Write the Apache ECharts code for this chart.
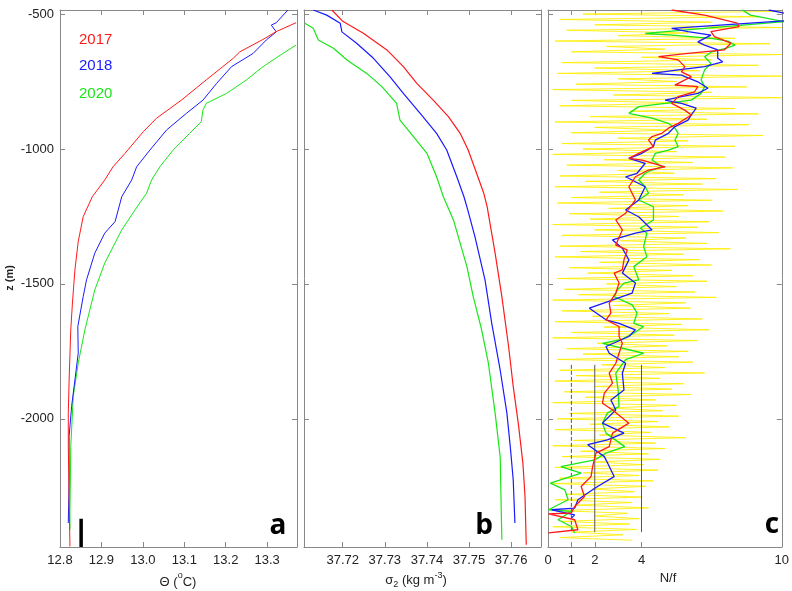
<!DOCTYPE html>
<html><head><meta charset="utf-8">
<script src="https://cdn.jsdelivr.net/npm/echarts@6/dist/echarts.min.js"></script>
<style>html,body{margin:0;padding:0;background:#fff}#c{width:792px;height:591px}</style>
</head><body><div id="c"></div>
<script>
// ---------- Panel a : potential temperature (°C) ----------
const thetaZ2017 = [-532,-565,-594,-640,-664,-744,-819,-886,-936,-1016,-1066,-1115,-1177,-1251,-1343,-1448,-1571,-1670,-1856,-1979,-2103,-2288,-2473];
const theta2017  = [13.370,13.322,13.290,13.234,13.218,13.153,13.093,13.033,13.001,12.957,12.928,12.908,12.878,12.856,12.844,12.836,12.830,12.826,12.822,12.820,12.820,12.822,12.824];
const thetaZ2018 = [-485,-532,-541,-566,-596,-646,-695,-757,-819,-868,-930,-1004,-1066,-1115,-1177,-1269,-1312,-1386,-1485,-1547,-1658,-1757,-1856,-1954,-2065,-2226,-2386];
const theta2018  = [13.350,13.322,13.310,13.322,13.298,13.266,13.214,13.178,13.145,13.105,13.057,13.017,12.985,12.973,12.949,12.933,12.908,12.884,12.864,12.856,12.843,12.844,12.836,12.828,12.822,12.822,12.820];
const thetaZ2020 = [-615,-646,-695,-744,-794,-831,-856,-899,-942,-1004,-1066,-1115,-1164,-1226,-1300,-1423,-1522,-1670,-1794,-1917,-2103,-2348,-2411];
const theta2020  = [13.370,13.338,13.290,13.250,13.202,13.153,13.145,13.141,13.113,13.073,13.041,13.021,13.009,12.981,12.949,12.908,12.884,12.860,12.844,12.832,12.826,12.824,12.824];
const thetaTicks = [12.8,12.9,13.0,13.1,13.2,13.3];
const scaleBarTheta = 12.851, scaleBarZ = [-2370,-2475];

// ---------- Panel b : sigma2 (kg m-3) ----------
const sigZ2017 = [-485,-528,-571,-633,-695,-757,-819,-880,-942,-1004,-1090,-1164,-1214,-1386,-1547,-1732,-1880,-2016,-2164,-2288,-2467];
const sig2017  = [37.7174,37.7201,37.7249,37.7305,37.7344,37.7376,37.7415,37.7451,37.7479,37.7498,37.7518,37.7535,37.7543,37.7562,37.7578,37.7594,37.7605,37.7617,37.7628,37.7633,37.7636];
const sigZ2018 = [-485,-504,-534,-566,-608,-664,-732,-794,-868,-942,-1004,-1103,-1177,-1226,-1325,-1485,-1646,-1819,-1979,-2103,-2226,-2386];
const sig2018  = [37.7130,37.7162,37.7194,37.7198,37.7233,37.7273,37.7312,37.7344,37.7384,37.7423,37.7447,37.7471,37.7488,37.7497,37.7514,37.7538,37.7554,37.7574,37.7590,37.7598,37.7605,37.7609];
const sigZ2020 = [-534,-553,-596,-627,-670,-720,-769,-831,-893,-954,-1016,-1103,-1177,-1263,-1436,-1547,-1670,-1794,-1979,-2140,-2448];
const sig2020  = [37.7110,37.7130,37.7142,37.7178,37.7210,37.7257,37.7293,37.7328,37.7336,37.7368,37.7400,37.7423,37.7439,37.7463,37.7495,37.7510,37.7530,37.7546,37.7562,37.7574,37.7578];
const sigmaTicks = [37.72,37.73,37.74,37.75,37.76];

// ---------- Panel c : N/f ----------
const nfZ2017 = [-485,-504,-534,-547,-565,-584,-608,-633,-646,-658,-670,-695,-714,-732,-757,-763,-769,-788,-806,-831,-856,-874,-905,-923,-942,-954,-967,-991,-1016,-1035,-1041,-1066,-1078,-1103,-1140,-1189,-1238,-1263,-1300,-1356,-1374,-1411,-1448,-1460,-1497,-1534,-1571,-1608,-1633,-1658,-1695,-1720,-1757,-1794,-1831,-1868,-1905,-1942,-1967,-2016,-2053,-2103,-2127,-2177,-2214,-2251,-2288,-2325,-2349,-2352,-2374,-2411,-2423];
const nf2017  = [5.29,6.70,8.10,8.17,6.97,7.12,7.82,7.54,5.99,4.73,5.57,5.85,5.71,6.13,5.57,5.43,6.41,6.27,5.57,5.29,5.85,6.13,5.57,5.15,4.87,4.45,4.30,4.51,3.88,3.46,4.02,5.01,4.30,3.74,3.46,3.74,3.32,2.90,3.18,2.90,3.39,3.25,3.18,2.83,3.04,2.90,2.62,2.69,2.48,3.04,3.04,3.18,3.04,2.90,2.62,2.76,2.41,2.33,2.76,3.46,2.76,2.62,2.05,1.91,1.84,1.42,1.56,1.14,1.00,0.02,1.14,1.28,0.02];
const nfZ2018 = [-485,-500,-525,-553,-565,-578,-603,-615,-633,-664,-677,-695,-707,-720,-726,-751,-775,-794,-806,-819,-831,-849,-874,-893,-917,-942,-967,-991,-1016,-1035,-1053,-1090,-1103,-1140,-1189,-1226,-1251,-1300,-1312,-1337,-1368,-1411,-1460,-1497,-1534,-1590,-1633,-1646,-1670,-1695,-1732,-1757,-1794,-1831,-1893,-1930,-1967,-2016,-2053,-2078,-2096,-2140,-2152,-2214,-2251,-2275,-2300,-2331,-2337,-2356,-2368];
const nf2018  = [9.44,10.3,10.2,5.29,5.99,6.97,6.41,6.70,7.26,7.26,7.47,6.70,5.57,4.45,5.71,6.41,6.84,6.41,5.71,5.01,5.71,6.34,6.13,5.99,5.43,5.15,4.59,4.51,4.02,3.46,4.16,3.81,3.32,4.16,3.88,3.32,3.88,4.45,3.74,2.76,3.18,3.46,3.18,3.74,3.60,1.77,2.48,3.04,3.74,3.46,2.48,2.62,3.32,3.18,3.25,2.69,2.90,2.33,3.25,2.54,1.70,2.41,2.48,2.83,2.12,1.70,1.28,1.14,0.16,1.14,1.00];
const nfZ2020 = [-485,-504,-528,-572,-578,-590,-600,-615,-627,-640,-658,-683,-707,-744,-769,-794,-819,-831,-843,-868,-886,-905,-923,-942,-967,-991,-1004,-1016,-1041,-1066,-1078,-1090,-1115,-1140,-1164,-1189,-1214,-1263,-1294,-1312,-1362,-1399,-1436,-1485,-1497,-1522,-1547,-1578,-1608,-1646,-1658,-1683,-1707,-1720,-1757,-1781,-1831,-1893,-1954,-1979,-2016,-2053,-2103,-2127,-2152,-2177,-2201,-2238,-2263,-2300,-2337,-2343,-2374,-2399,-2423];
const nf2020  = [8.31,8.66,10.1,4.16,5.30,7.00,7.70,8.00,7.60,7.00,6.70,6.97,6.70,6.55,6.70,6.55,6.13,5.01,3.88,3.46,4.45,5.15,5.43,5.57,5.43,5.57,5.15,4.59,4.45,4.87,4.45,4.16,3.88,4.16,4.30,3.88,4.51,4.51,3.95,4.23,4.09,4.23,3.67,3.88,3.25,2.97,2.83,3.60,3.81,3.67,4.09,3.67,3.11,2.33,4.09,3.32,2.90,3.00,3.04,2.54,2.33,2.48,3.28,2.48,2.00,0.55,1.42,0.10,0.72,0.86,0.02,1.00,0.43,1.00,1.14];
// high-resolution N/f profile (yellow), sampled every 10 m from -490 m
const rawTopZ = -490, rawStepZ = 10;
const nfRaw = [
 10,1.5,9,0.5,7,2,10,0.8,6,3,
 8,0.3,9.5,2.5,5,1,10,4,7,0.6,
 9,2,6.5,0.4,10,3,5.5,1.2,8.5,0.2,
 7,2.8,10,1,6,0.5,8,3.5,9,1.8,
 6.8,0.3,8.6,2,5.2,1,9.2,3,6,0.6,
 8,1.5,5.5,0.2,7.6,2.4,6.2,0.8,7.9,3,
 5.4,0.5,7.2,1.6,6.6,0.3,8.1,2.2,5.8,1,
 7,0.4,6,2.6,7.5,0.9,5.6,1.8,6.9,0.2,
 6.4,2,7.3,0.6,5.9,3.1,6.8,0.5,7.8,1.4,
 5.8,0.3,6.5,2.2,7,0.9,5.3,1.7,6.2,0.4,
 6.8,2.5,5.5,0.7,6.3,1.3,7.2,0.2,5.9,2.8,
 6.1,0.6,5.2,1.9,6.6,0.3,5.7,2.4,6.9,1,
 5.4,0.2,6.4,2.1,5.1,0.8,6,1.5,5.6,0.4,
 6.2,2.3,5,0.5,6.7,1.2,4.8,0.3,5.8,2,
 5.3,0.7,6.1,1.6,4.6,0.2,5.5,2.6,4.9,0.9,
 5.6,0.4,4.7,1.8,5.2,0.3,4.4,2.2,5.9,1.1,
 4.6,0.2,5,1.4,4.3,0.6,4.8,2,4.1,0.3,
 4.7,1.5,3.9,0.5,4.5,0.2,4.2,1.9,3.7,0.8,
 4,0.3,3.6,1.2,4.3,0.4,3.4,2,3.9,0.6,
 3.5,0.2,3.8,1,3.2,0.5,3.6
];
const nfTicks = [0,1,2,4,10];
const refLinesNf = [1,2,4], refLinesZ = [-1800,-2420];

const depthTicks = [-500,-1000,-1500,-2000];
const zMin = -2475, zMax = -485;

const RED='#ff1a1a', BLUE='#1a1aff', GREEN='#19e619', FRAME='#888888', FONT='"Liberation Sans", Arial, sans-serif';
const zip = (xs, zs) => xs.map((v,i)=>[v, zs[i]]);

const grids = [
  {left:60, top:10, width:237, height:537},
  {left:304, top:10, width:237, height:537},
  {left:548, top:10, width:237, height:537}
];
function xAxes(g, min, max, ticks, fmt){
  const base = {type:'value', gridIndex:g, min, max, splitLine:{show:false},
    axisLine:{show:true, onZero:false, lineStyle:{color:FRAME, width:1}},
    axisTick:{show:true, inside:true, length:5, customValues:ticks, lineStyle:{color:FRAME}}};
  return [
    Object.assign({}, base, {position:'bottom', axisLabel:{show:true, customValues:ticks, formatter:fmt, margin:7, fontSize:13, color:'#222', fontFamily:FONT}}),
    Object.assign({}, base, {position:'top', axisLabel:{show:false}})
  ];
}
function yAxes(g, showLabels){
  const base = {type:'value', gridIndex:g, min:zMin, max:zMax, splitLine:{show:false},
    axisLine:{show:true, onZero:false, lineStyle:{color:FRAME, width:1}},
    axisTick:{show:true, inside:true, length:5, customValues:depthTicks, lineStyle:{color:FRAME}}};
  return [
    Object.assign({}, base, {position:'left', axisLabel:{show:showLabels, customValues:depthTicks, formatter:v=>String(v), margin:6, fontSize:13, color:'#222', fontFamily:FONT}}),
    Object.assign({}, base, {position:'right', axisLabel:{show:false}})
  ];
}
const xAxis = [].concat(
  xAxes(0, 12.8, 13.372, thetaTicks, v=>v.toFixed(1)),
  xAxes(1, 37.7108, 37.7671, sigmaTicks, v=>v.toFixed(2)),
  xAxes(2, 0, 10, nfTicks, v=>String(v))
);
const yAxis = [].concat(yAxes(0,true), yAxes(1,false), yAxes(2,false));

function prof(xi, data, color, w){
  return {type:'line', xAxisIndex:xi, yAxisIndex:xi, data, showSymbol:false, symbol:'none', silent:true,
    lineStyle:{color, width:w}, clip:true, z:3};
}
const series = [
  prof(0, zip(theta2020, thetaZ2020), GREEN, 1),
  prof(0, zip(theta2018, thetaZ2018), BLUE, 1),
  prof(0, zip(theta2017, thetaZ2017), RED, 1),
  {type:'line', xAxisIndex:0, yAxisIndex:0, showSymbol:false, symbol:'none', silent:true,
    data: scaleBarZ.map(z=>[scaleBarTheta, z]), lineStyle:{color:'#000', width:3.5}, z:4},
  prof(2, zip(sig2020, sigZ2020), GREEN, 1.2),
  prof(2, zip(sig2018, sigZ2018), BLUE, 1.2),
  prof(2, zip(sig2017, sigZ2017), RED, 1.2),
  {type:'line', xAxisIndex:4, yAxisIndex:4, showSymbol:false, symbol:'none', silent:true,
    data: nfRaw.map((v,i)=>[v, rawTopZ - i*rawStepZ]), lineStyle:{color:'rgba(255,238,0,0.85)', width:1}, z:1},
].concat(refLinesNf.map((n,k)=>({type:'line', xAxisIndex:4, yAxisIndex:4, showSymbol:false, symbol:'none', silent:true,
    data: refLinesZ.map(z=>[n, z]), lineStyle:{color:'#555', width:1, type: k===0?'dashed':'solid'}, z:2})))
 .concat([
  prof(4, zip(nf2020, nfZ2020), GREEN, 1.3),
  prof(4, zip(nf2018, nfZ2018), BLUE, 1.3),
  prof(4, zip(nf2017, nfZ2017), RED, 1.3)
]);

const txt = (x,y,text,opt)=>({type:'text', x, y, silent:true, z:10,
  style:Object.assign({text, fontFamily:FONT, fontSize:13, fill:'#222', align:'center', verticalAlign:'middle'}, opt||{})});
const graphic = [
  txt(79, 40, '2017', {fill:RED, fontSize:15, align:'left'}),
  txt(79, 66, '2018', {fill:BLUE, fontSize:15, align:'left'}),
  txt(79, 94, '2020', {fill:GREEN, fontSize:15, align:'left'}),
  txt(278, 526, 'a', {fontSize:28, fontWeight:'bold', fill:'#000', fontFamily:'"Open Sans", "DejaVu Sans", sans-serif'}),
  txt(484, 526, 'b', {fontSize:28, fontWeight:'bold', fill:'#000', fontFamily:'"Open Sans", "DejaVu Sans", sans-serif'}),
  txt(772, 525, 'c', {fontSize:28, fontWeight:'bold', fill:'#000', fontFamily:'"Open Sans", "DejaVu Sans", sans-serif'}),
  txt(178, 580, '{n|Θ (}{s|o}{n|C)}', {rich:{n:{fontSize:13, fontFamily:FONT, fill:'#222', lineHeight:18, verticalAlign:'bottom'}, s:{fontSize:9, fontFamily:FONT, fill:'#222', lineHeight:18, verticalAlign:'top'}}}),
  txt(416, 580, '{n|σ}{b|2}{n| (kg m}{s|-3}{n|)}', {rich:{n:{fontSize:13, fontFamily:FONT, fill:'#222', lineHeight:18, verticalAlign:'middle'}, b:{fontSize:9, fontFamily:FONT, fill:'#222', lineHeight:18, verticalAlign:'bottom'}, s:{fontSize:9, fontFamily:FONT, fill:'#222', lineHeight:18, verticalAlign:'top'}}}),
  txt(668, 578, 'N/f', {fontSize:13}),
  {type:'text', x:10, y:278, rotation:Math.PI/2, silent:true, z:10,
   style:{text:'z (m)', fontFamily:FONT, fontSize:11, fontWeight:'bold', fill:'#222', align:'center', verticalAlign:'middle'}}
];

const chart = echarts.init(document.getElementById('c'), null, {renderer:'canvas'});
chart.setOption({animation:false, backgroundColor:'#fff', grid:grids, xAxis, yAxis, series, graphic});
</script></body></html>
